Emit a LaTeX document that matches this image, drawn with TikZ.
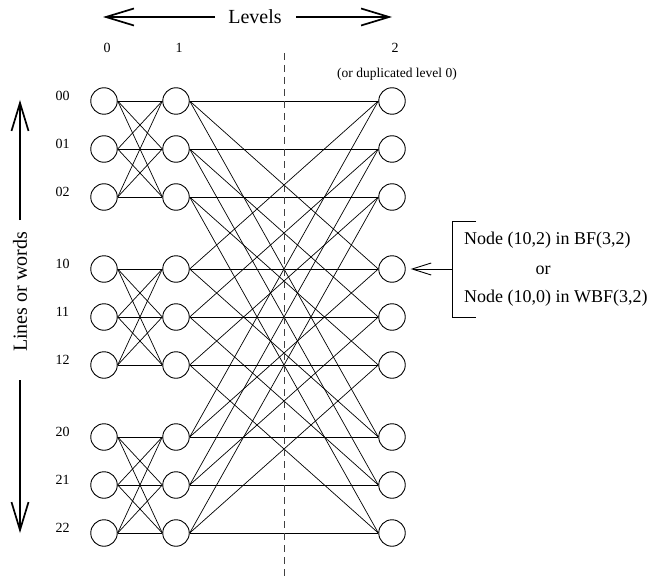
\documentclass[tikz,border=0pt]{standalone}
\usepackage{fontspec}
\setmainfont{Liberation Serif}
\usetikzlibrary{arrows.meta}
\begin{document}
\begin{tikzpicture}[x=1pt,y=-1pt,
  vtx/.style={circle,draw,line width=0.9pt,minimum size=26.5pt,inner sep=0pt},
  edge/.style={line width=0.7pt},
  lbl/.style={font=\fontsize{14}{14}\selectfont,inner sep=0pt},
  small/.style={font=\fontsize{13.5}{13.5}\selectfont,inner sep=0pt},
  big/.style={font=\fontsize{20}{20}\selectfont,inner sep=0pt},
  mid/.style={font=\fontsize{18}{18}\selectfont,inner sep=0pt},
  bigarrow/.style={line width=1.7pt,-{Straight Barb[length=28pt,width=17pt,line width=1.7pt]}},
  smallarrow/.style={line width=0.9pt,-{Straight Barb[length=19pt,width=12pt,line width=0.9pt]}},
  dashline/.style={line width=0.9pt,dash pattern=on 7pt off 5pt,black!75},
]
\useasboundingbox (0,0) rectangle (647,580);

% vertices and row labels
\foreach \g in {0,1,2}{
  \foreach \i in {0,1,2}{
    \pgfmathsetmacro\yy{101+168*\g+48*\i}
    \node[vtx] (a\g\i) at (104,\yy) {};
    \node[vtx] (b\g\i) at (176,\yy) {};
    \node[vtx] (c\g\i) at (392,\yy) {};
    \node[lbl] (r\g\i) at (62.5,\yy-5) {\g\i};
  }
}

% edges
\foreach \g in {0,1,2}{
  \foreach \i in {0,1,2}{
    \foreach \j in {0,1,2}{
      \draw[edge] (a\g\i.east) -- (b\g\j.west);
      \draw[edge] (b\i\j.east) -- (c\g\j.west);
    }
  }
}

% level labels
\node[lbl] (l0) at (107,48) {0};
\node[lbl] (l1) at (179,48) {1};
\node[lbl] (l2) at (395,48) {2};
\node[small] (dup) at (397,74) {(or duplicated level 0)};

% dashed divider
\coordinate (dtop) at (284,53);
\coordinate (dbot) at (284,579);
\draw[dashline] (dtop) -- (dbot);

% Levels arrow
\node[big] (lev) at (255,17) {Levels};
\coordinate (ls) at (215,17);
\coordinate (lt) at (103,17);
\coordinate (rs) at (296,17);
\coordinate (rt) at (392,17);
\draw[bigarrow] (ls) -- (lt);
\draw[bigarrow] (rs) -- (rt);

% Lines or words arrow
\node[big,rotate=90] (low) at (20,292) {Lines or words};
\coordinate (us) at (20,220);
\coordinate (ut) at (20,100);
\coordinate (ds) at (20,380);
\coordinate (dt) at (20,533);
\draw[bigarrow] (us) -- (ut);
\draw[bigarrow] (ds) -- (dt);

% bracket and annotation
\coordinate (bt) at (476,221);
\coordinate (btl) at (452,221);
\coordinate (bbl) at (452,317);
\coordinate (bb) at (476,317);
\coordinate (bm) at (452,269);
\draw[line width=0.9pt] (bt) -- (btl) -- (bbl) -- (bb);
\draw[smallarrow,shorten >=5pt] (bm) -- (c10.east);
\node[mid,anchor=west] (t1) at (464,240) {Node (10,2) in BF(3,2)};
\node[mid] (t2) at (543,270) {or};
\node[mid,anchor=west] (t3) at (464,298) {Node (10,0) in WBF(3,2)};
\end{tikzpicture}
\end{document}
